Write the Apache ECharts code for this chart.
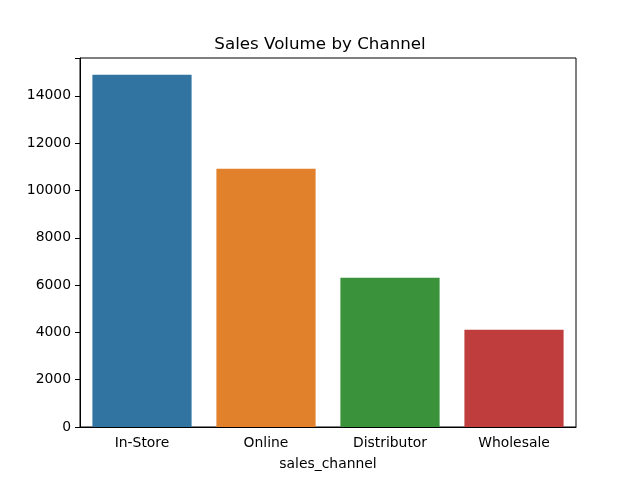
<!DOCTYPE html>
<html><head><meta charset="utf-8">
<script src="https://cdn.jsdelivr.net/npm/echarts@6/dist/echarts.min.js"></script>
<style>html,body{margin:0;padding:0;background:#fff}#c{width:640px;height:480px}</style>
</head><body><div id="c"></div>
<script>
const categories = ["In-Store", "Online", "Distributor", "Wholesale"];
const values = [14890, 10920, 6310, 4110];
const colors = ["#3274a1", "#e1812c", "#3a923a", "#c03d3e"];
const yTicks = [0, 2000, 4000, 6000, 8000, 10000, 12000, 14000];

const chart = echarts.init(document.getElementById('c'), null, {renderer: 'canvas'});
const font = "DejaVu Sans";
chart.setOption({
  animation: false,
  backgroundColor: '#fff',
  title: {text: 'Sales Volume by Channel', left: 'center', top: 31,
    textStyle: {fontFamily: font, fontSize: 16.7, fontWeight: 'normal', color: '#000'}},
  grid: {left: 80, right: 64, top: 58, bottom: 53, show: true, borderColor: '#000', borderWidth: 1},
  xAxis: {type: 'category', data: categories,
    name: 'sales_channel', nameLocation: 'middle', nameGap: 30,
    nameTextStyle: {fontFamily: font, fontSize: 13.9, color: '#000'},
    axisLine: {lineStyle: {color: '#000'}},
    axisTick: {alignWithLabel: true, length: 5, lineStyle: {color: '#000'}},
    axisLabel: {fontFamily: font, fontSize: 13.9, color: '#000', margin: 9}},
  yAxis: {type: 'value', min: 0, max: 15600, interval: 2000,
    splitLine: {show: false},
    axisLine: {show: true, lineStyle: {color: '#000'}},
    axisTick: {show: true, length: 5, lineStyle: {color: '#000'}},
    axisLabel: {fontFamily: font, fontSize: 13.9, color: '#000', margin: 9,
      formatter: v => yTicks.includes(v) ? String(v) : ''}},
  series: [{type: 'bar', barCategoryGap: '20%',
    data: values.map((v, i) => ({value: v, itemStyle: {color: colors[i]}}))}]
});
</script></body></html>
